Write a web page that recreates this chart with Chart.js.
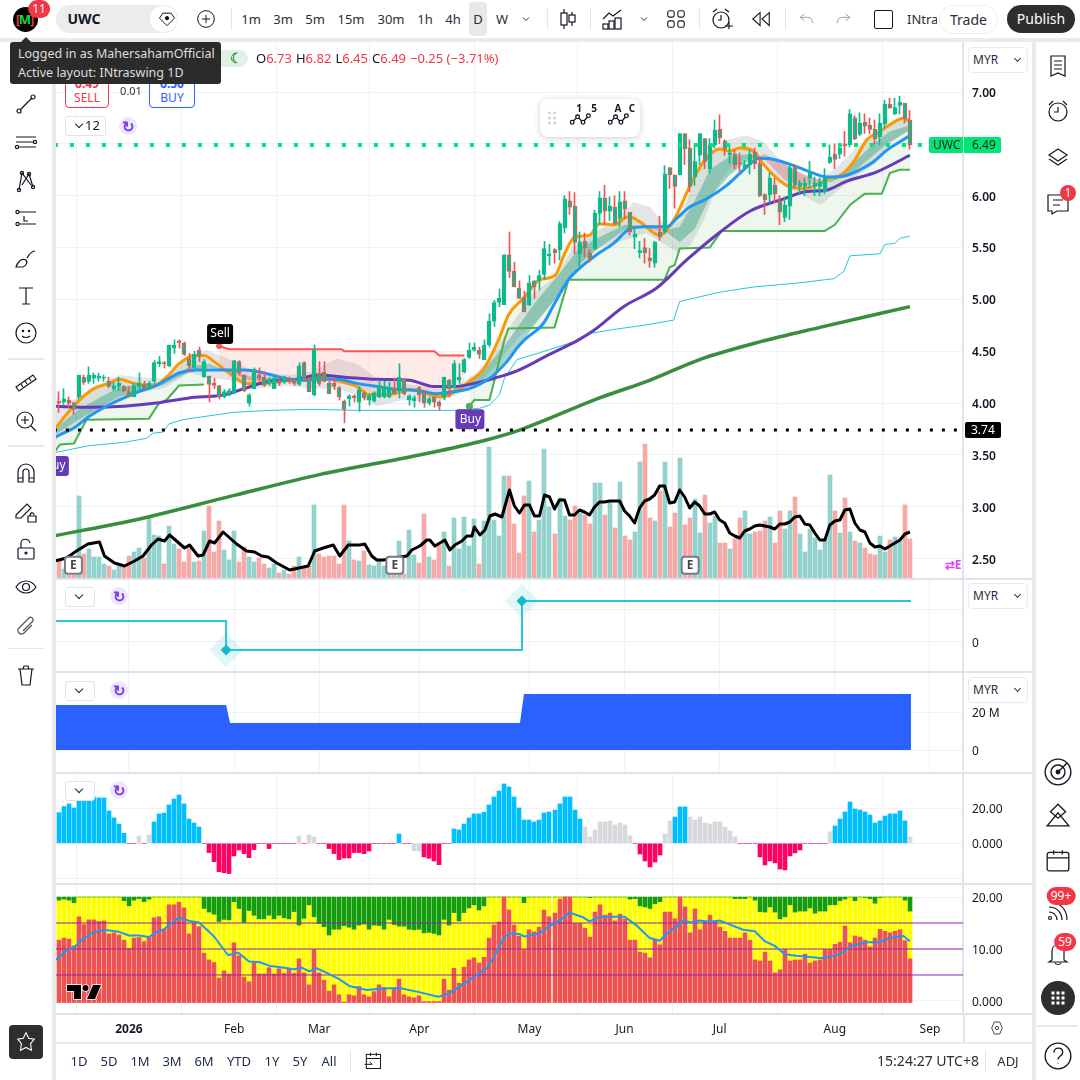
<!DOCTYPE html>
<html>
<head>
<meta charset="utf-8">
<title>UWC</title>
<script src="https://cdn.jsdelivr.net/npm/chart.js@4/dist/chart.umd.js"></script>
<style>
html,body{margin:0;padding:0;width:1080px;height:1080px;overflow:hidden;background:#ebebeb;font-family:"Noto Sans",sans-serif;color:#131722}
.box{position:absolute;background:#fff}
canvas{position:absolute;left:56px;display:block}
.t{position:absolute;white-space:nowrap;font-size:14px;line-height:1;transform:translate(-50%,-50%)}
.l{position:absolute;white-space:nowrap;font-size:13px;line-height:1}
.sep{position:absolute;background:#e0e3eb}
.vd{position:absolute;width:1px;background:#e6e6e6}
.hd{position:absolute;height:2px;background:#e8e8e8}
.myr{position:absolute;left:968px;width:58px;height:24px;border:1px solid #e8eaef;border-radius:4px;background:#fff;font-size:12px;line-height:24px;text-indent:4px;color:#2a2e39}
.myr:after{content:"";position:absolute;right:7px;top:8px;width:4px;height:4px;border:solid #333;border-width:0 1.3px 1.3px 0;transform:rotate(45deg)}
.drop{position:absolute;left:65px;width:28px;height:18px;border:1px solid #e0e3eb;border-radius:3px;background:#fff}
.drop:after{content:"";position:absolute;left:10px;top:4px;width:5px;height:5px;border:solid #222;border-width:0 1.4px 1.4px 0;transform:rotate(45deg)}
.sync{position:absolute;width:18px;height:18px;border-radius:50%;background:#ece7fb;color:#7c3aed;font-size:15px;font-weight:700;line-height:18px;text-align:center}
.badge{position:absolute;background:#f23645;color:#fff;border-radius:9px;font-size:12px;line-height:16px;height:16px;padding:0 4px;text-align:center;transform:translate(-50%,-50%)}
svg.i{position:absolute;fill:none;stroke:#131722;stroke-width:1.2}
</style>
</head>
<body>
<div class="box" style="left:0;top:0;width:1080px;height:38px"></div>
<div class="box" style="left:0;top:42px;width:52px;height:1038px"></div>
<div class="box" style="left:56px;top:42px;width:976px;height:1000px"></div>
<div class="box" style="left:56px;top:1044px;width:976px;height:36px"></div>
<div class="box" style="left:1036px;top:42px;width:44px;height:1038px"></div>

<canvas id="mainPane" width="976" height="536" style="top:42px"></canvas>
<canvas id="signalPane" width="976" height="91" style="top:580px"></canvas>
<canvas id="areaPane" width="976" height="98" style="top:673px"></canvas>
<canvas id="histPane" width="976" height="109" style="top:774px"></canvas>
<canvas id="stackPane" width="976" height="157" style="top:885px"></canvas>

<div class="sep" style="left:56px;top:578px;width:976px;height:2px"></div>
<div class="sep" style="left:56px;top:671px;width:976px;height:2px"></div>
<div class="sep" style="left:56px;top:772px;width:976px;height:2px"></div>
<div class="sep" style="left:56px;top:883px;width:976px;height:2px"></div>
<div class="sep" style="left:56px;top:1013px;width:976px;height:2px"></div>

<div id="ui"></div>

<script>
// daily bars, left to right
const opens = [4.02,4.01,4.03,4.00,4.06,4.25,4.21,4.24,4.24,4.24,4.21,4.14,4.16,4.16,4.11,4.06,4.16,4.18,4.15,4.21,
4.38,4.39,4.36,4.53,4.60,4.58,4.43,4.34,4.51,4.25,4.26,4.19,4.17,4.06,4.09,4.10,4.40,4.27,4.00,4.14,
4.27,4.25,4.19,4.14,4.22,4.20,4.24,4.22,4.18,4.39,4.24,4.08,4.29,4.30,4.19,4.19,4.15,4.02,4.04,4.07,
4.01,4.10,4.03,4.02,4.06,4.06,4.06,4.14,4.14,4.23,4.03,4.02,4.15,4.10,4.00,4.06,4.01,4.06,4.22,4.15,
4.22,4.30,4.44,4.51,4.51,4.42,4.56,4.79,4.97,4.95,5.43,5.27,5.11,5.02,4.95,5.18,5.18,5.24,5.42,5.48,
5.48,5.69,5.95,5.90,5.44,5.56,5.45,5.49,5.83,5.98,5.85,5.89,5.78,5.95,5.84,5.60,5.45,5.50,5.40,5.35,
5.65,5.65,6.27,6.20,6.20,6.60,6.46,6.18,6.39,6.55,6.26,6.49,6.64,6.53,6.39,6.40,6.32,6.27,6.30,6.42,
6.31,6.01,6.01,6.10,5.95,5.79,5.90,6.28,6.09,6.09,6.17,6.09,6.09,6.04,6.32,6.40,6.40,6.50,6.49,6.75,
6.59,6.71,6.68,6.64,6.57,6.69,6.88,6.79,6.87,6.89,6.73];
const highs = [4.11,4.14,4.06,4.01,4.27,4.27,4.35,4.29,4.29,4.27,4.25,4.20,4.25,4.17,4.16,4.19,4.29,4.21,4.21,4.41,
4.45,4.40,4.56,4.61,4.61,4.59,4.48,4.50,4.54,4.42,4.26,4.24,4.17,4.13,4.14,4.41,4.41,4.27,4.09,4.34,
4.34,4.30,4.25,4.27,4.24,4.26,4.25,4.23,4.39,4.40,4.25,4.56,4.40,4.40,4.21,4.24,4.16,4.03,4.08,4.08,
4.16,4.11,4.09,4.11,4.22,4.21,4.20,4.24,4.38,4.24,4.08,4.07,4.16,4.12,4.06,4.06,4.02,4.25,4.23,4.41,
4.38,4.43,4.58,4.58,4.54,4.61,4.86,4.99,5.10,5.43,5.65,5.36,5.18,5.08,5.23,5.18,5.28,5.56,5.53,5.49,
5.75,6.00,6.04,6.03,5.65,5.64,5.48,5.86,6.04,6.10,5.99,6.00,6.04,6.04,5.84,5.70,5.56,5.59,5.49,5.56,
5.80,6.29,6.27,6.20,6.60,6.60,6.54,6.49,6.60,6.55,6.55,6.73,6.78,6.54,6.49,6.44,6.41,6.34,6.44,6.46,
6.36,6.02,6.22,6.17,6.00,5.99,6.30,6.30,6.15,6.17,6.33,6.18,6.17,6.26,6.49,6.50,6.50,6.62,6.83,6.77,
6.80,6.79,6.75,6.73,6.79,6.92,6.94,6.94,6.96,6.89,6.82];
const lows = [3.91,3.98,3.96,3.89,4.04,4.18,4.19,4.19,4.21,4.21,4.15,4.12,4.12,4.11,4.06,4.06,4.12,4.13,4.13,4.19,
4.35,4.34,4.35,4.48,4.53,4.46,4.30,4.32,4.40,4.25,4.01,4.14,4.04,4.05,4.07,4.09,4.27,4.11,3.97,4.14,
4.21,4.16,4.17,4.14,4.17,4.19,4.19,4.17,4.17,4.21,4.11,4.07,4.17,4.21,4.09,4.13,4.03,3.81,3.97,4.01,
3.92,4.03,3.98,4.01,4.05,4.05,4.05,4.09,4.05,4.08,3.98,3.96,4.01,3.96,3.98,3.96,3.93,4.03,4.06,4.14,
4.19,4.29,4.43,4.50,4.43,4.42,4.54,4.74,4.93,4.95,5.21,5.12,5.01,4.88,4.94,5.01,5.09,5.19,5.33,5.35,
5.38,5.64,5.82,5.44,5.31,5.41,5.36,5.48,5.72,5.72,5.76,5.72,5.70,5.78,5.62,5.49,5.40,5.35,5.31,5.31,
5.57,5.64,6.07,5.88,6.20,6.30,6.04,6.10,6.30,6.26,6.22,6.46,6.50,6.39,6.31,6.26,6.23,6.25,6.21,6.26,
5.99,5.82,5.93,5.93,5.72,5.75,5.77,6.07,6.02,6.00,6.07,6.00,6.00,6.02,6.31,6.26,6.36,6.38,6.47,6.54,
6.58,6.60,6.60,6.50,6.49,6.65,6.84,6.78,6.79,6.70,6.45];
const closes = [4.00,4.04,4.00,3.94,4.27,4.20,4.27,4.27,4.26,4.25,4.16,4.17,4.19,4.12,4.06,4.17,4.19,4.14,4.19,4.39,
4.40,4.38,4.56,4.56,4.58,4.47,4.36,4.47,4.45,4.40,4.18,4.17,4.06,4.11,4.12,4.41,4.29,4.12,4.08,4.32,
4.24,4.17,4.23,4.24,4.19,4.25,4.21,4.19,4.36,4.23,4.11,4.51,4.19,4.21,4.09,4.16,4.06,3.94,4.07,4.05,
4.13,4.05,4.07,4.10,4.17,4.16,4.14,4.09,4.25,4.09,4.07,4.05,4.08,4.00,4.04,4.01,3.97,4.25,4.14,4.38,
4.25,4.42,4.51,4.54,4.47,4.56,4.79,4.97,5.01,5.43,5.27,5.12,5.01,4.88,5.16,5.12,5.23,5.49,5.44,5.45,
5.73,5.97,5.89,5.55,5.55,5.50,5.38,5.83,5.98,5.85,5.90,5.73,5.94,5.87,5.65,5.63,5.47,5.45,5.37,5.55,
5.60,6.21,6.20,6.09,6.60,6.45,6.09,6.33,6.60,6.33,6.49,6.63,6.56,6.45,6.41,6.30,6.31,6.30,6.40,6.31,
6.00,5.96,6.17,6.02,5.84,5.91,6.27,6.10,6.12,6.12,6.23,6.12,6.13,6.17,6.37,6.35,6.46,6.48,6.79,6.55,
6.70,6.67,6.64,6.55,6.70,6.88,6.85,6.85,6.90,6.74,6.49];
const volumes = [17,9,3,3,82,24,29,21,21,14,12,8,12,12,22,26,30,20,62,43,42,14,52,34,29,16,30,16,17,47,72,26,57,28,18,47,16,31,21,16,
20,14,10,14,5,8,4,12,21,10,12,73,24,21,22,22,14,73,37,18,17,27,13,12,17,12,8,4,37,4,48,23,15,64,21,18,33,46,12,60,29,61,32,59,14,57,131,58,
42,102,102,54,25,82,97,46,58,129,71,44,80,62,58,72,65,63,54,95,95,63,75,50,96,42,38,46,116,134,60,57,87,116,51,65,120,53,60,79,45,83,55,62,35,35,29,39,60,67,
44,46,47,57,61,35,67,49,67,81,44,26,49,40,28,39,103,67,45,80,46,37,35,30,24,23,42,26,38,41,37,73,39];

// [bar, value] readings; the library draws straight between them
const volumeAverage = [[-1,17],[0,18],[1.5,20],[3.5,27],[4.5,30],[5.8,34],[8.1,36],[9.1,22],[11.1,15],[13.1,12],[15.1,17],[16.8,22],[18.5,33],[19.8,39],[21.1,37],[22.1,43],[23.5,37],[25.1,30],[26.1,33],[27.8,22],[28.8,23],[30.1,37],[31.1,35],[32.8,46],[35.5,34],[37.5,27],[39.1,26],[40.5,22],[41.8,21],[43.5,15],[46.1,8],[49.8,12],[51.1,27],[52.8,30],[54.8,33],[56.1,22],[57.8,33],[60.1,33],[61.1,34],[62.5,22],[63.5,18],[64.8,18],[69.5,22],[70.5,28],[72.1,32],[73.5,38],[74.1,38],[75.1,32],[77.1,38],[78.1,28],[79.1,33],[80.5,37],[81.5,42],[82.5,42],[83,51],[84.1,43],[85.1,48],[86.1,62],[87.1,64],[88.5,61],
[90,88],[91,72],[92,65],[93,73],[94,73],[95,62],[96,62],[97,83],[98,81],[99,69],[100,78],[101,78],[102,63],[103,63],[104,68],[105,66],[106,63],[107,71],[108,76],[109,76],[110,77],[111,77],[112,77],[113,67],[114,62],[115,55],[116,70],[117,77],[118,79],[119,83],[120,92],[121,92],[122,75],[123,76],[124,88],[125,81],[126,70],[127,76],[128,72],[129,64],[130,64],[131,66],[132,58],[133,55],[134,45],[135,42],[136,40],[137,47],[138,49],[139,52],[140,53],[141,52],[142,51],[143,49],[144,54],[145,54],[146,56],[147,61],[148,62],[149,54],[150,53],[151,45],[152,38],[153,38],[154,53],[155,57],[156,58],[157,68],[158,69],[159,55],[160,48],[161,46],[162,35],[163,31],[164,32],[165,29],[166,32],[167,35],[168,38],[169,44],[170,46]];
const fastAverage = [[-1,3.74],[0,3.80],[3.5,4.00],[7,4.14],[10,4.19],[12,4.23],[15,4.19],[19,4.17],[21.5,4.25],[24,4.38],[27,4.46],[29,4.46],[31,4.40],[34,4.29],[37.5,4.19],[41,4.19],[44,4.22],[47.5,4.22],[52,4.25],[56,4.21],[59.5,4.16],[62,4.08],[66,4.08],[70,4.13],[73.5,4.09],[76,4.06],[78,4.08],[81.5,4.19],[85,4.34],[88,4.63],[89.8,4.85],[92.8,5.01],[96.1,5.19],[99.1,5.23],[101,5.44],[103,5.60],[106,5.62],[108,5.73],[111,5.72],[113.8,5.80],[116,5.75],[120,5.62],[123,5.78],[126,6.09],[128.8,6.33],[132,6.45],[134,6.43],[136,6.46],[139,6.42],[140.8,6.30],[143.4,6.17],[145.4,6.10],[148.8,6.07],[152,6.12],[154,6.17],[156,6.19],[158.8,6.33],[161.4,6.54],[164,6.62],[166.8,6.71],[168.8,6.75],[170,6.71]];
const midAverage = [[-1,3.66],[0,3.69],[3,3.76],[6,3.87],[9.5,3.97],[13,4.05],[16,4.11],[19.5,4.17],[22,4.24],[24,4.29],[27.5,4.32],[31,4.32],[34,4.32],[37,4.32],[41,4.29],[45,4.24],[49,4.22],[52,4.23],[55.5,4.23],[59.5,4.19],[63.5,4.16],[68,4.13],[72,4.12],[75.5,4.09],[79,4.11],[82,4.14],[86,4.24],[89.5,4.40],[91.5,4.53],[93,4.61],[96.8,4.77],[99,4.96],[101.8,5.19],[104,5.30],[107.4,5.43],[110.8,5.54],[114,5.68],[116.8,5.70],[121.4,5.70],[123.4,5.78],[126,5.89],[129.4,5.97],[133.4,6.10],[136.8,6.25],[139.8,6.36],[142.8,6.35],[146.8,6.29],[150,6.23],[153.4,6.18],[156.8,6.19],[160,6.25],[162.8,6.33],[165.4,6.44],[168,6.52],[170,6.58]];
const slowAverage = [[-1,3.97],[6,3.96],[13,3.97],[19.5,4.00],[26,4.05],[33,4.08],[37,4.14],[42,4.21],[47.5,4.23],[52,4.27],[57,4.25],[63.5,4.23],[70,4.22],[75,4.16],[79,4.16],[83,4.19],[87,4.24],[91.5,4.31],[98,4.47],[103.8,4.61],[106.8,4.70],[112.8,4.93],[119.4,5.11],[125.4,5.38],[132.1,5.65],[138,5.85],[144.8,5.97],[149.4,6.04],[153,6.05],[157.4,6.14],[163.4,6.23],[170,6.39]];
const longAverage = [[-1,2.72],[14,2.86],[35,3.11],[52,3.31],[72,3.50],[85,3.64],[92,3.74],[108,4.05],[118,4.22],[128,4.42],[140,4.59],[152,4.73],[170,4.93]];
const baseLine = [[-1,3.52],[6,3.59],[12.8,3.62],[17.5,3.66],[18.8,3.71],[20.8,3.72],[22,3.80],[24.8,3.84],[27.5,3.86],[34.8,3.91],[42,3.93],[50.8,3.94],[59.5,3.93],[67.5,3.93],[79.5,3.93],[84,3.95],[86,3.98],[88,4.08],[89,4.24],[91.5,4.42],[97,4.50],[104,4.61],[106,4.67],[110.8,4.71],[116.8,4.75],[122.8,4.80],[124,4.98],[132,5.07],[138.8,5.12],[148,5.16],[154.8,5.20],[156.8,5.27],[158,5.42],[164,5.44],[165,5.53],[167,5.54],[168,5.59],[170,5.61]];
const stopLongEarly = [[-1,3.52],[0.2,3.60],[3,3.61],[5.5,3.84],[18,3.85],[20,4.00],[21.5,4.03],[24,4.17],[29,4.18]];
const stopShort = [[32,4.55],[34,4.52],[56.5,4.52],[57,4.50],[75,4.50],[76,4.46],[81,4.46]];
const stopLongLate = [[82,3.97],[83,4.03],[86,4.03],[87,4.22],[89,4.61],[89.8,4.72],[99,4.73],[101.8,5.19],[121,5.19],[122,5.31],[123,5.33],[124,5.49],[130,5.50],[132.4,5.66],[153,5.66],[155,5.72],[158,5.91],[161,6.02],[164.4,6.02],[166,6.22],[168,6.25],[170,6.25]];
const cloudUpper = [[-1,3.92],[3.5,4.05],[7.5,4.17],[12.1,4.27],[16.1,4.25],[20.8,4.24],[26.1,4.46],[29.5,4.51],[32.8,4.45],[39.5,4.30],[46.1,4.27],[50.1,4.30],[55.5,4.43],[59.5,4.38],[63.5,4.24],[68.8,4.19],[75.5,4.14],[79.5,4.17],[83.5,4.29],[87.5,4.54],[91.4,4.83],[94.8,5.06],[99.4,5.22],[102.8,5.51],[106.8,5.65],[110.8,5.73],[114.8,5.94],[118.1,5.89],[121.4,5.70],[124.1,5.76],[126.8,6.15],[129.4,6.38],[133.4,6.54],[137.4,6.58],[140.8,6.52],[144.1,6.34],[146.8,6.25],[151.4,6.15],[154.8,6.25],[158.8,6.44],[162.8,6.60],[166.1,6.70],[170,6.76]];
const cloudLower = [[-1,3.65],[3.5,3.77],[7.5,3.93],[12.1,4.03],[16.1,4.11],[20.8,4.14],[26.1,4.29],[29.5,4.25],[34.1,4.22],[39.5,4.14],[46.1,4.17],[50.1,4.14],[55.5,4.14],[59.5,4.08],[63.5,3.97],[68.8,4.03],[75.5,4.01],[79.5,4.08],[83.5,4.17],[87.5,4.38],[91.4,4.61],[95.4,4.80],[99.4,5.02],[103.4,5.28],[107.4,5.49],[112.8,5.57],[117.4,5.64],[123.4,5.46],[126.1,5.52],[128.8,5.76],[131.4,6.09],[134.8,6.31],[138.8,6.39],[141.4,6.28],[144.8,6.09],[148.1,6.02],[152.1,5.91],[154.8,6.02],[158.8,6.17],[162.8,6.30],[166.1,6.50],[170,6.65]];
const ribbonFast = [[-1,3.74],[4,3.94],[8,4.05],[12,4.15],[16,4.18],[21,4.20],[26,4.35],[30,4.38],[34,4.30],[38,4.22],[42,4.22],[50,4.24],[56,4.25],[60,4.17],[64,4.12],[70,4.13],[75,4.08],[80,4.15],[85,4.32],[90,4.62],[95,4.96],[100,5.25],[104,5.50],[108,5.60],[113,5.72],[117,5.70],[120,5.65],[124,5.70],[127,5.95],[130,6.25],[134,6.38],[138,6.40],[141,6.35],[145,6.15],[149,6.10],[154,6.15],[158,6.28],[162,6.47],[166,6.62],[170,6.68]];
const ribbonSlow = [[-1,3.69],[4,3.84],[8,3.95],[12,4.06],[16,4.12],[21,4.18],[26,4.30],[30,4.34],[34,4.32],[38,4.26],[42,4.24],[50,4.23],[56,4.23],[60,4.17],[64,4.12],[70,4.12],[75,4.10],[80,4.12],[85,4.22],[90,4.42],[95,4.75],[100,5.05],[104,5.34],[108,5.50],[113,5.67],[117,5.72],[120,5.70],[124,5.55],[127,5.68],[130,5.98],[134,6.20],[138,6.35],[141,6.40],[145,6.30],[149,6.20],[154,6.13],[158,6.20],[162,6.36],[166,6.52],[170,6.63]];
const lastPriceLine = [[-1,6.49],[182,6.49]];
const supportLine = [[-1,3.74],[182,3.74]];
const sellSignals = [[32.2,4.55]];
const buySignals = [[82.2,3.97],[-0.8,3.52]];
const earningsBars = [[2.8,2.44],[67,2.44],[126,2.44]];

const trendStep = [[-1,6.4],[33.4,6.4],[33.4,-2.4],[92.5,-2.4],[92.5,12.4],[170.2,12.4]];
const trendFlips = [[33.4,-2.4],[92.5,12.4]];
const sharesFloat = [[-1,23.7],[33.4,23.7],[34.2,14.2],[92.1,14.2],[92.9,29.5],[170.2,29.5]];

const oscillator = [17.5,21,22.5,20.2,24.4,24.4,24.8,26.3,25.9,25.9,18.5,14.5,11,5.7,0,0,4.2,0,4.8,12.2,
16.8,17.3,21.9,25.3,27.6,22.5,13.9,11.6,9.3,0,-5.3,-10.5,-16.2,-16.8,-17.3,-7.2,-3.8,-5.9,-8.2,-3.6,
0,0,-3,0,0,0,0,0,4.2,0,4.8,3.6,0,0,-3,-5.9,-9.3,-8.4,-8.4,-5.3,-5.3,-5.9,-4.4,0,0,0,0,0,5.3,0,0,-4.2,-4.4,-7.8,-8.6,-10.1,-12.2,0,0,
8.2,7.6,11,14.5,16.8,16.8,17.8,21.9,26.5,29.9,33.9,32.2,26.5,20.2,13.3,13.3,12.2,13.3,17.3,17.9,19,22.5,26.5,26.5,19,13.9,9.3,3.6,7.6,12.2,12.2,12.8,10.5,11.6,10.5,4.2,0,
-6.1,-10.1,-13.5,-10.7,-6.7,5.3,12.8,15,20.8,20.8,15,13.3,15,11.6,11,12.2,12.2,9.3,7,3.6,0,0,0,0,-7.8,-12.4,-10.1,-11.2,-14.7,-15.2,-7.2,-5.5,-3.8,0,0,0,0,0,
6.5,9.9,13.9,17.9,23.6,19.6,19,17.9,16.2,11.6,12.8,15.6,16.8,16.8,18.5,12.8,3.6];
const oscillatorNeutral = [16,18,48,50,51,71,72,105,106,107,108,109,110,111,112,113,114,121,122,126,127,128,129,130,131,132,133,134,135,154,170];

const stackLow = [11.7,12.1,11.9,10.6,16.2,14.7,15.6,15.6,15.3,15.4,12.9,13.1,12.7,11.7,10.1,12.1,12.2,11.4,12.4,16,
16.2,13.8,18.5,18.5,19,17.9,12.9,15.1,14.3,9.2,7.9,7.4,4.4,5.8,5.2,11.2,8.7,4.6,3.7,7.4,
5.2,5.2,6.4,5.2,6.2,5.3,6.2,5.3,8.1,5.4,3.1,9.9,5.4,4,1.9,3.1,1.2,-0.2,1.2,1,
2.8,1.2,0.8,1.8,3.1,2.6,0.8,2.4,4.2,1.2,0.8,0.6,1,-0.1,-0.1,-0.1,-0.1,4.2,2.1,6.3,
3.4,6.5,7.9,8.3,7.3,8.4,12.1,14.6,15.2,20,17.5,14.6,12.5,9.9,13.7,13.3,14.2,17.5,16.2,16.9,
19.6,20,20,14.9,14.9,14,12.3,17.1,18.5,16.5,16.9,15.4,16.7,15.8,11.7,11.7,9.4,9.2,8.3,11.9,
10.8,17.1,17.1,15.8,20,18.1,13.1,17.7,13.7,15.4,16.5,15.4,14.2,13.4,12.1,12.1,12.1,13.1,11.7,7.9,
7.7,9.4,7.7,5.4,6,9.9,7.7,7.9,7.9,9,7.3,7.7,7.9,9.9,9.9,10.9,11.3,14.4,11.2,12.5,
12.3,11.7,10.4,12.1,13.8,13.4,13.1,13.4,13.7,11.6,8.1];
const stackHigh = [19.4,19.6,19.4,18.9,20,20,20,20,20,20,20,20,20,19.3,18.3,19.4,19.7,19.1,19.6,20,
20,20,20,20,20,20,20,20,20,17.8,17.1,16.7,15.3,15.7,15.6,19.1,17.8,15.1,17.4,16.5,
15.8,15.8,16.5,15.8,16.5,16,15.8,17.2,14.6,15.9,18.5,16.2,14.9,14.3,12.7,13.8,13.8,14.5,14.2,13.8,
14.6,14.8,13.8,14.6,14.5,13.8,15.7,14.7,14.4,14.4,13.8,13.7,13.8,13.1,13.2,13,12.7,15.7,14.6,17,
15.4,17,17.9,18.5,17.5,18.3,20,20,20,20,20,20,20,18.9,20,20,20,20,20,20,
20,20,20,20,20,20,19.9,20,20,20,20,20,20,20,19.6,19.7,18.3,18.1,17.8,18.7,
19.1,20,20,20,20,20,20,20,20,20,20,20,20,20,20,19.7,19.7,19.7,20,19.4,
17.2,17.1,18.1,17.1,15.8,16.2,18.5,17.1,17.3,17.3,17.9,16.9,17.3,17.3,18.5,18.5,19.3,19.6,20,19.3,
20,19.9,19.7,18.8,19.9,20,20,20,20,19.4,17.3];
const stackAverage = [[-1,7.8],[0,8.3],[1.5,9.7],[3,10.3],[4.5,11.7],[6.5,13],[9,13.7],[12,13.3],[14,12.6],[16,12.6],[18,12.3],[19.5,13.3],[21,13.8],[24,16.1],[26,15.4],[28,15.1],[31,12.4],[33.8,8.8],[35.8,9.3],[38,7.6],[40,7.5],[42,6.8],[45,6.4],[47,6.1],[48.5,6.4],[50,5.7],[51.5,6.3],[53.5,5.4],[56,4.2],[58,2.9],[61.5,2.1],[64.8,2.4],[68,2.5],[71.5,1.8],[75.8,0.8],[78,1.5],[82,4],[85.5,6.3],[87.3,9.2],[89,12.4],[90.3,13],[92,12.9],[93,12.4],[96,13],[97.7,14.2],[99.7,15.3],[102,17],[104.7,16.1],[106,15.3],[108,16.2],[113,16.2],[115.3,14.6],[118,12.1],[120,11.6],[122,13.5],[123.3,14.2],[124.7,15.5],[126.3,15.1],[128,15.5],[130,15.2],[132,15.5],[134.3,14.6],[136.7,13.7],[139,13.4],[141,11.5],[143,10.6],[145,9],[147.3,8.7],[149.3,8.5],[152.7,8.2],[156,9],[158.3,10.6],[161.3,11.3],[163.7,11.3],[166,12.1],[168.7,12.5],[170,11.5]];
const stackLevels = [15,10,5];
const stackBase = -0.3;
const stackTop = 20;

const monthBars = [14,35,52,72,94,113,132,155,174];
const monthLabels = ['2026','Feb','Mar','Apr','May','Jun','Jul','Aug','Sep'];
const priceTicks = [2.5,3,3.5,4,4.5,5,5.5,6,6.5,7];
const signalTicks = [0,10];
const floatTicks = [0,20];
const oscillatorTicks = [-20,0,20];
const stackTicks = [0,10,20];

const upColor = '#0fb98c', downColor = '#f25252';
const xMin = -0.58, xMax = 180.6;

const xy = pairs => pairs.map(p => ({x:p[0], y:p[1]}));
const byBar = (a, f) => a.map((v, i) => ({x:i, y:f(v, i)}));

function line(pairs, color, width, extra) {
  return Object.assign({type:'line', data:xy(pairs), borderColor:color, borderWidth:width, pointRadius:0,
    borderJoinStyle:'round', order:5}, extra);
}
function band(pairs, extra) {
  return line(pairs, 'transparent', 0, extra);
}
function bars(data, color, width, extra) {
  return Object.assign({type:'bar', data:data, backgroundColor:color, grouped:false, barPercentage:1,
    categoryPercentage:1, maxBarThickness:width, order:5}, extra);
}

// keep bar edges on whole pixels like the original
const snapBars = {
  id:'snapBars',
  beforeDatasetsDraw(chart) {
    chart.getSortedVisibleDatasetMetas().forEach(m => {
      if (m.type !== 'bar') return;
      m.data.forEach(el => { el.x = Math.round(el.x - el.width / 2) + el.width / 2; });
    });
  }
};

function roundBox(ctx, x, y, w, h, r, fill, stroke) {
  ctx.beginPath();
  ctx.roundRect(x, y, w, h, r);
  ctx.fillStyle = fill;
  ctx.fill();
  if (stroke) { ctx.lineWidth = 2; ctx.strokeStyle = stroke; ctx.stroke(); }
}

const signalLabels = {
  id:'signalLabels',
  afterDatasetsDraw(chart) {
    const ctx = chart.ctx, xs = chart.scales.x, ys = chart.scales.y;
    ctx.save();
    ctx.textAlign = 'center';
    ctx.textBaseline = 'middle';
    ctx.font = '12px "Noto Sans"';
    sellSignals.forEach(s => {
      const x = xs.getPixelForValue(s[0]), y = ys.getPixelForValue(s[1]);
      roundBox(ctx, x - 13, y - 22, 26, 20, 3, '#000');
      ctx.fillStyle = '#fff';
      ctx.fillText('Sell', x, y - 12);
    });
    buySignals.forEach(s => {
      const x = xs.getPixelForValue(s[0]), y = ys.getPixelForValue(s[1]);
      roundBox(ctx, x - 15, y + 3, 29, 20, 3, '#673ab7');
      ctx.fillStyle = '#fff';
      ctx.fillText('Buy', x, y + 13);
    });
    ctx.font = '700 12px "Noto Sans"';
    earningsBars.forEach(s => {
      const x = xs.getPixelForValue(s[0]), y = ys.getPixelForValue(s[1]);
      roundBox(ctx, x - 8, y - 8, 17, 17, 3, '#fff', '#787b86');
      ctx.fillStyle = '#444';
      ctx.fillText('E', x + 0.5, y + 1);
    });
    ctx.restore();
  }
};

function pane(id, datasets, yMin, yMax, ticks, format, tickFont, opts) {
  opts = opts || {};
  const gridColor = '#f0f1f4';
  return new Chart(document.getElementById(id), {
    data: {datasets: datasets},
    plugins: [snapBars].concat(opts.plugins || []),
    options: {
      responsive:false, maintainAspectRatio:false, animation:false, devicePixelRatio:1,
      layout:{padding:0, autoPadding:false},
      plugins:{legend:{display:false}, tooltip:{enabled:false}},
      scales:{
        x:{
          type:'linear', min:xMin, max:xMax, offset:false,
          grid:{color:gridColor, drawTicks:false},
          border:{display:false},
          afterBuildTicks(s) { s.ticks = monthBars.map(v => ({value:v})); },
          afterFit(s) { s.height = opts.timeAxis ? 29 : 0; s.paddingLeft = 0; s.paddingRight = 0; },
          ticks:{
            display:!!opts.timeAxis, autoSkip:false, maxRotation:0, padding:9, color:'#131722',
            font:c => ({family:'"Noto Sans"', size:12, weight:c.index === 0 ? 700 : 400}),
            callback:(v, i) => monthLabels[i]
          }
        },
        y:{
          type:'linear', position:'right', min:yMin, max:yMax,
          grid:{color:gridColor, drawTicks:false},
          border:{color:'#e0e3eb', width:2},
          afterBuildTicks(s) { s.ticks = ticks.map(v => ({value:v})); },
          afterFit(s) { s.width = 69; s.paddingTop = 0; s.paddingBottom = 0; },
          ticks:{padding:9, labelOffset:1.5, color:'#131722', font:tickFont, callback:format}
        },
        vol:{type:'linear', axis:'y', position:'right', display:false, min:0, max:536}
      }
    }
  });
}

const plainFont = {family:'"Noto Sans"', size:12};
const boldFont = {family:'"Noto Sans"', size:12, weight:600};

// main pane; fill targets below refer to these positions in the list
const mainSets = [
  line(fastAverage, '#ff9800', 3, {order:4, cubicInterpolationMode:'monotone'}),          // 0
  line(midAverage, '#2196f3', 3, {order:3, cubicInterpolationMode:'monotone'}),           // 1
  line(slowAverage, '#673ab7', 3, {order:3.5, cubicInterpolationMode:'monotone'}),        // 2
  line(longAverage, '#388e3c', 3.5, {order:6, cubicInterpolationMode:'monotone'}),        // 3
  line(baseLine, '#26c6da', 1, {order:6}),                                                // 4
  line(stopLongEarly, '#4caf50', 2, {order:7, fill:{target:0, above:'rgba(76,175,80,.1)', below:'rgba(76,175,80,.1)'}}),
  line(stopLongLate, '#4caf50', 2, {order:7, fill:{target:0, above:'rgba(76,175,80,.1)', below:'rgba(76,175,80,.1)'}}),
  line(stopShort, '#ff5252', 2, {order:7, fill:{target:0, above:'rgba(255,82,82,.12)', below:'rgba(255,82,82,.12)'}}),
  band(cloudLower, {order:8}),                                                            // 8
  band(cloudUpper, {order:8, fill:{target:8, above:'rgba(120,123,134,.2)', below:'rgba(120,123,134,.2)'}}),
  band(ribbonSlow, {order:7.5}),                                                          // 10
  band(ribbonFast, {order:7.5, fill:{target:10, above:'rgba(30,150,130,.4)', below:'rgba(214,60,60,.3)'}}),
  line(volumeAverage, '#000', 3, {yAxisID:'vol', order:5}),
  line(lastPriceLine, '#00e676', 4, {borderDash:[4,12], order:0.5}),
  line(supportLine, '#000', 3, {borderDash:[3,9], order:0.5}),
  line(sellSignals.map(s => [32, s[1]]), '#ff5252', 0, {showLine:false, pointRadius:3, pointBackgroundColor:'#ff5252', order:0.8}),
  line([[82,3.97]], '#4caf50', 0, {showLine:false, pointRadius:3.5, pointBackgroundColor:'#4caf50', order:0.8}),
  bars(byBar(opens, (o, i) => [Math.min(o, closes[i]), Math.max(o, closes[i])]),
    closes.map((c, i) => upColor), 4,
    {order:1, borderWidth:1, borderSkipped:false, borderColor:closes.map((c, i) => c >= opens[i] ? upColor : downColor)}),
  bars(byBar(lows, (l, i) => [l, highs[i]]), closes.map((c, i) => c >= opens[i] ? upColor : downColor), 1, {order:2}),
  bars(byBar(volumes, v => v), closes.map((c, i) => c >= opens[i] ? '#93d2cc' : '#f7a9a7'), 4, {yAxisID:'vol', order:20})
];
pane('mainPane', mainSets, 2.3134, 7.4822, priceTicks, v => v.toFixed(2), boldFont, {plugins:[signalLabels]});

pane('signalPane', [
  line(trendStep, '#26c6da', 2, {order:3}),
  line(trendFlips, '#26c6da', 0, {showLine:false, pointStyle:'rectRot', pointRadius:5.5, pointBackgroundColor:'#14b8cc', order:1}),
  line(trendFlips, '#26c6da', 0, {showLine:false, pointStyle:'rectRot', pointRadius:17, pointBackgroundColor:'rgba(38,198,218,.14)', order:4})
], -8.79, 18.79, signalTicks, v => v === 0 ? '0' : '', plainFont);

pane('areaPane', [
  line(sharesFloat, '#2962ff', 0, {fill:{value:0}, backgroundColor:'#2962ff'})
], -11.05, 40.53, floatTicks, v => v === 0 ? '0' : v + ' M', plainFont);

pane('histPane', [
  bars(byBar(oscillator, v => v),
    oscillator.map((v, i) => oscillatorNeutral.includes(i) ? '#d8d9dd' : v > 0 ? '#00bfff' : '#ff0063'), 4)
], -22.69, 39.6, oscillatorTicks, v => v === 0 ? '0.000' : v === 20 ? '20.00' : '', plainFont);

pane('stackPane', [
  line(stackAverage, '#2196f3', 2, {order:1}),
  ...stackLevels.map(v => line([[-1, v], [182, v]], '#8e24aa', 1, {order:2})),
  bars(byBar(stackLow, v => [stackBase, v]), '#ef5350', 4, {order:3}),
  bars(byBar(stackHigh, (v, i) => [stackLow[i], v]), '#ffff00', 4, {order:4}),
  bars(byBar(stackHigh, v => [v, stackTop]), '#149c0a', 4, {order:3})
], -2.31, 22.31, stackTicks, v => v === 0 ? '0.000' : v.toFixed(2), plainFont, {timeAxis:true});

// interface around the chart
const ui = document.getElementById('ui');
function add(html) { ui.insertAdjacentHTML('beforeend', html); }
function t(x, y, s, style) { add(`<div class="t" style="left:${x}px;top:${y}px;${style || ''}">${s}</div>`); }
function l(x, y, s, style) { add(`<div class="l" style="left:${x}px;top:${y}px;${style || ''}">${s}</div>`); }
function icon(x, y, body, size, style) {
  const s = size || 24;
  add(`<svg class="i" viewBox="0 0 24 24" width="${s}" height="${s}" style="left:${x - s / 2}px;top:${y - s / 2}px;${style || ''}">${body}</svg>`);
}

// top bar
add('<div style="position:absolute;left:13px;top:7px;width:25px;height:25px;border-radius:50%;background:#000"></div>');
t(25, 19, 'M', 'color:#19d43c;font-weight:700;font-size:13px');
t(25, 19, '[&nbsp;&nbsp;&nbsp;]', 'color:#e53935;font-weight:700;font-size:13px');
add('<div class="badge" style="left:39px;top:9px;min-width:12px;border-radius:10px;height:18px;line-height:18px">11</div>');
add('<div style="position:absolute;left:56px;top:5px;width:122px;height:28px;border-radius:14px;background:#ececec"></div>');
add('<div style="position:absolute;left:150px;top:6px;width:27px;height:26px;border-radius:14px;background:#fff"></div>');
t(84, 19, 'UWC', 'font-weight:700;font-size:14px');
icon(167, 19, '<path d="M7 5h10l4 6-9 9-9-9z"/><circle cx="12" cy="11" r="2" fill="#131722"/>', 20);
icon(206, 19, '<circle cx="12" cy="12" r="10"/><path d="M12 7v10M7 12h10"/>', 20);
add('<div style="position:absolute;left:469px;top:2px;width:18px;height:34px;border-radius:4px;background:#e8e8e8"></div>');
[['1m',251],['3m',283],['5m',315],['15m',351],['30m',391],['1h',425],['4h',453],['D',478],['W',502]].forEach(a => t(a[1], 19, a[0], 'font-size:13px;color:#2a2e39'));
icon(526, 19, '<path d="M8 10l4 4 4-4"/>', 18);
[231, 547, 590, 699, 785].forEach(x => add(`<div class="vd" style="left:${x}px;top:8px;height:22px"></div>`));
icon(568, 19, '<path d="M8 2v20M16 5v14"/><rect x="5" y="6" width="6" height="12" fill="#fff"/><rect x="13" y="8" width="6" height="7" fill="#fff"/>', 24);
icon(612, 19, '<path d="M3 12l6-6 4 3 8-6"/><rect x="3" y="17" width="5" height="5"/><rect x="9" y="14" width="5" height="8"/><rect x="15" y="11" width="6" height="11"/>', 24);
icon(644, 19, '<path d="M8 10l4 4 4-4"/>', 18);
icon(676, 19, '<rect x="3" y="3" width="7" height="7" rx="2"/><rect x="14" y="3" width="7" height="7" rx="2"/><rect x="3" y="14" width="7" height="7" rx="2"/><rect x="14" y="14" width="7" height="7" rx="2"/>', 22);
icon(722, 19, '<circle cx="11" cy="13" r="8"/><path d="M11 8v5h-3M3 5l4-3M19 5l-4-3M19 15v7M15 19h8"/>', 24);
icon(761, 19, '<path d="M11 5l-8 7 8 7zM21 5l-8 7 8 7z"/>', 22);
icon(806, 19, '<path d="M10 6l-5 4 5 4M5 10h9c4 0 6 3 6 7"/>', 20, 'stroke:#9a9ea8');
icon(844, 19, '<path d="M14 6l5 4-5 4M19 10h-9c-4 0-6 3-6 7"/>', 20, 'stroke:#9a9ea8');
add('<div style="position:absolute;left:874px;top:10px;width:17px;height:17px;border:1.3px solid #131722;border-radius:2px"></div>');
add('<div style="position:absolute;left:907px;top:12px;width:30px;height:16px;overflow:hidden;font-size:13px;line-height:14px;color:#2a2e39">INtra</div>');
add('<div style="position:absolute;left:939px;top:5px;width:57px;height:27px;border:1px solid #eee;border-radius:14px;background:#fff;text-align:center;line-height:27px;font-size:14px;color:#2a2e39">Trade</div>');
add('<div style="position:absolute;left:1007px;top:5px;width:68px;height:28px;border-radius:14px;background:#2e2e2e;text-align:center;line-height:28px;font-size:14px;color:#fff">Publish</div>');

// chart overlays
add('<div style="position:absolute;left:205px;top:50px;width:43px;height:17px;border-radius:9px;background:#e2f1e5"></div>');
t(236, 58, '☾', 'color:#2e9e44;font-size:14px;font-weight:700');
const redSpan = s => `<span style="color:#f23645">${s}</span>`, gapSpan = '<span style="margin-left:4px"></span>';
l(256, 52, 'O' + redSpan('6.73') + gapSpan + 'H' + redSpan('6.82') + gapSpan + 'L' + redSpan('6.45') + gapSpan + 'C' + redSpan('6.49') + gapSpan + redSpan('−0.25 (−3.71%)'), 'font-size:13px');
add('<div style="position:absolute;left:65px;top:70px;width:42px;height:36px;border:1px solid #f23645;border-radius:4px;background:#fff;color:#f23645;text-align:center;font-size:12px;line-height:14px"><div style="font-weight:700;margin-top:6px">6.49</div><div>SELL</div></div>');
t(131, 90, '0.01', 'font-size:11px;color:#333');
add('<div style="position:absolute;left:149px;top:70px;width:44px;height:36px;border:1px solid #2962ff;border-radius:4px;background:#fff;color:#2962ff;text-align:center;font-size:12px;line-height:14px"><div style="font-weight:700;margin-top:6px">6.50</div><div>BUY</div></div>');
add('<div style="position:absolute;left:10px;top:42px;width:211px;height:42px;border-radius:3px;background:#2b2b2b;color:#ddd;font-size:12.5px;line-height:19px;padding:2px 0 0 8px;box-sizing:border-box;white-space:nowrap">Logged in as MahersahamOfficial<br>Active layout: INtraswing 1D</div>');
add('<div style="position:absolute;left:20px;top:37px;border:6px solid transparent;border-top:0;border-bottom-color:#2b2b2b"></div>');
add('<div class="drop" style="top:116px;width:39px"></div>');
l(85, 119, '12', 'font-size:13px');
[[119, 126, 128], [596, 596, 119], [689, 690, 119], [790, 790, 119]].forEach((a, i) => {
  if (i > 0) add(`<div class="drop" style="top:${a[1] - 9}px"></div>`);
  add(`<div class="sync" style="left:${a[2] - 9}px;top:${a[1] - 9}px">↻</div>`);
});
add('<div class="myr" style="top:47px">MYR</div><div class="myr" style="top:583px">MYR</div><div class="myr" style="top:677px">MYR</div>');
add('<div style="position:absolute;left:540px;top:99px;width:100px;height:38px;border-radius:8px;background:#fff;box-shadow:0 1px 6px rgba(0,0,0,.2)"></div>');
icon(552, 118, '<path d="M9 6h.1M15 6h.1M9 12h.1M15 12h.1M9 18h.1M15 18h.1" stroke-width="3" stroke="#cfcfcf" stroke-linecap="square"/>', 20);
[[582, 'M2 15l5-5 5 5 5-6'], [620, 'M2 15l5-5 5 5 5-6']].forEach(a => {
  icon(a[0] + 1, 119, `<path d="${a[1]}"/><circle cx="2" cy="15" r="1.7" fill="#fff"/><circle cx="7" cy="10" r="1.7" fill="#fff"/><circle cx="12" cy="15" r="1.7" fill="#fff"/><circle cx="17" cy="9" r="1.7" fill="#fff"/>`, 26);
});
[[579, '1'], [594, '5'], [618, 'A'], [632, 'C']].forEach(a => t(a[0], 108, a[1], 'font-size:10px;font-weight:700'));

add('<div style="position:absolute;left:929px;top:137px;width:72px;height:16px;border-radius:2px;background:#00e676"></div>');
add('<div style="position:absolute;left:963px;top:137px;width:1px;height:16px;background:#e8f8ef"></div>');
l(933, 139, 'UWC', 'font-size:12px;color:#0b2a1a');
l(972, 139, '6.49', 'font-size:12px;color:#0b2a1a');
add('<div style="position:absolute;left:965px;top:422px;width:36px;height:16px;border-radius:2px;background:#000"></div>');
l(971, 424, '3.74', 'font-size:12px;color:#fff');
t(953, 565, '⇄E', 'font-size:12px;color:#e040fb;font-weight:700');

// watermark
add('<svg style="position:absolute;left:66px;top:983px" width="36" height="18" viewBox="0 0 36 18"><g fill="#000" stroke="#fff" stroke-width="1.6" paint-order="stroke"><path d="M1 2h14v14H8V8H1z"/><circle cx="19.5" cy="5" r="3"/><path d="M27 2h8l-6 14h-8z"/></g></svg>');

// time axis and bottom bar
add('<div style="position:absolute;left:963px;top:1013px;width:2px;height:29px;background:#e0e3eb"></div>');
icon(997, 1028, '<path d="M8 3h8l4 9-4 9H8l-4-9z"/><circle cx="12" cy="12" r="2.5"/>', 16);
[['1D',79],['5D',109],['1M',140],['3M',172],['6M',204],['YTD',239],['1Y',272],['5Y',300],['All',329]].forEach(a => t(a[1], 1061, a[0], 'font-size:13px;color:#1e2a4a'));
add('<div class="vd" style="left:350px;top:1050px;height:22px"></div><div class="vd" style="left:985px;top:1050px;height:22px"></div>');
icon(373, 1061, '<rect x="4" y="4" width="17" height="17"/><path d="M4 9h17M9 2v4M16 2v4M2 16h9l-3-3M8 19"/>', 20);
t(928, 1061, '15:24:27 UTC+8', 'font-size:14px;color:#2a2e39');
t(1008, 1061, 'ADJ', 'font-size:13px;color:#2a2e39');

// left tools
icon(26, 104, '<path d="M6 18L18 6"/><circle cx="5" cy="19" r="2"/><circle cx="19" cy="5" r="2"/>');
icon(26, 144, '<path d="M2 5h20M2 10h18M4 15h18"/><circle cx="21" cy="10" r="1.6"/><circle cx="3" cy="15" r="1.6"/>');
icon(26, 181, '<path d="M5 21L8 4l9 12M19 18L15 5 8 16"/><circle cx="8" cy="4" r="1.6"/><circle cx="15" cy="5" r="1.6"/><circle cx="5" cy="21" r="1.6"/><circle cx="19" cy="18" r="1.6"/>');
icon(26, 219, '<path d="M5 5h17M5 17h17M3 20"/><circle cx="3.5" cy="5" r="1.6"/><circle cx="3.5" cy="17" r="1.6"/><path d="M10 9v5h4"/>');
icon(26, 258, '<path d="M2 21c2-6 6-9 10-7 2 2 0 6-3 7zM13 12c2-2 2-6 8-7"/>');
icon(26, 295, '<path d="M5 5h14M12 5v16M8 21h8"/>');
icon(26, 333, '<circle cx="12" cy="12" r="10"/><path d="M8 15c2 2 6 2 8 0"/><circle cx="9" cy="10" r=".7"/><circle cx="15" cy="10" r=".7"/>');
add('<div class="hd" style="left:8px;top:358px;width:36px"></div><div class="hd" style="left:8px;top:445px;width:36px"></div><div class="hd" style="left:8px;top:648px;width:36px;height:1px"></div>');
icon(26, 383, '<path d="M2 16L19 4l3 4L5 20zM7 13l2 3M11 10l2 3M15 7l2 3"/>');
icon(26, 421, '<circle cx="11" cy="11" r="8"/><path d="M11 7v8M7 11h8M17 17l5 5"/>');
icon(26, 473, '<path d="M4 21V11a8 8 0 0 1 16 0v10h-5V11a3 3 0 0 0-6 0v10zM4 17h5M15 17h5"/>');
icon(26, 512, '<path d="M2 15L13 4l4 4-10 10H2zM14 20v-4h8v6h-8zM16 16c0-4 4-4 4-1"/>');
icon(26, 549, '<rect x="4" y="11" width="16" height="11" rx="1"/><path d="M7 11V6c0-5 8-5 9 0"/><circle cx="12" cy="16" r="1" fill="#131722"/>');
icon(26, 587, '<path d="M2 12c5-8 15-8 20 0-5 8-15 8-20 0z"/><circle cx="12" cy="12" r="3.5"/>');
icon(26, 626, '<path d="M9 17l9-9c3-3-1-6-3-4L5 14c-3 3 1 8 5 5l8-8" stroke="#555"/>');
icon(26, 675, '<path d="M4 6h16M6 6l2 16h8l2-16M9 6l1-3h4l1 3"/>');
add('<div style="position:absolute;left:9px;top:1025px;width:34px;height:34px;border-radius:4px;background:#2e2e2e"></div>');
icon(26, 1041, '<path d="M12 3l3 6 6 1-4 5 1 7-6-3-6 3 1-7-4-5 6-1z" stroke="#fff"/>', 22);

// right tools
icon(1058, 66, '<path d="M5 2h14v20l-7-3-7 3zM8 7h8M8 11h8M8 15h8"/>');
icon(1058, 111, '<circle cx="12" cy="13" r="9"/><path d="M12 8v5h-4M3 6l4-4M21 6l-4-4"/>');
icon(1058, 157, '<path d="M12 4l9 6-9 6-9-6zM3 14l9 6 9-6"/>');
icon(1058, 204, '<path d="M2 3h20v16h-11l-5 3v-3H2zM7 8h10M7 13h7"/>');
add('<div class="badge" style="left:1068px;top:193px;min-width:8px">1</div>');
icon(1058, 772, '<circle cx="12" cy="12" r="11"/><circle cx="12" cy="12" r="6"/><circle cx="12" cy="12" r="1.5" fill="#131722"/><path d="M12 12l8-8"/>', 28);
icon(1058, 815, '<path d="M2 22h20L12 10zM12 2l7 7-7 6-7-6z" fill="#fff"/>', 26);
icon(1058, 860, '<rect x="2" y="5" width="20" height="17" rx="2"/><path d="M2 10h20M8 3v4M16 3v4"/>', 26);
icon(1058, 910, '<circle cx="4" cy="20" r="1.5"/><path d="M3 14c4 0 8 3 8 8M3 9c8 0 13 6 13 13M8 5c8 1 13 8 13 17"/>');
add('<div class="badge" style="left:1061px;top:896px;height:18px;line-height:18px;border-radius:10px">99+</div>');
icon(1058, 954, '<path d="M6 18V9c0-8 12-8 12 0v9l3 2H3zM9 21c1 2 5 2 6 0"/>');
add('<div class="badge" style="left:1065px;top:942px;height:18px;line-height:18px;border-radius:10px">59</div>');
add('<div style="position:absolute;left:1041px;top:981px;width:34px;height:34px;border-radius:50%;background:#2e2e2e"></div>');
icon(1058, 998, '<path d="M6 6h3v3H6zM11 6h3v3h-3zM16 6h3v3h-3zM6 11h3v3H6zM11 11h3v3h-3zM16 11h3v3h-3zM6 16h3v3H6zM11 16h3v3h-3zM16 16h3v3h-3z" fill="#fff" stroke="none" transform="translate(-.5 -.5)"/>', 24);
add('<div class="hd" style="left:1037px;top:1025px;width:41px"></div>');
icon(1058, 1056, '<circle cx="12" cy="12" r="11"/><path d="M8.5 9c0-5 7.5-5 7.5 0 0 3-4 3-4 6M12 18v.5"/>', 28);
</script>
</body>
</html>
